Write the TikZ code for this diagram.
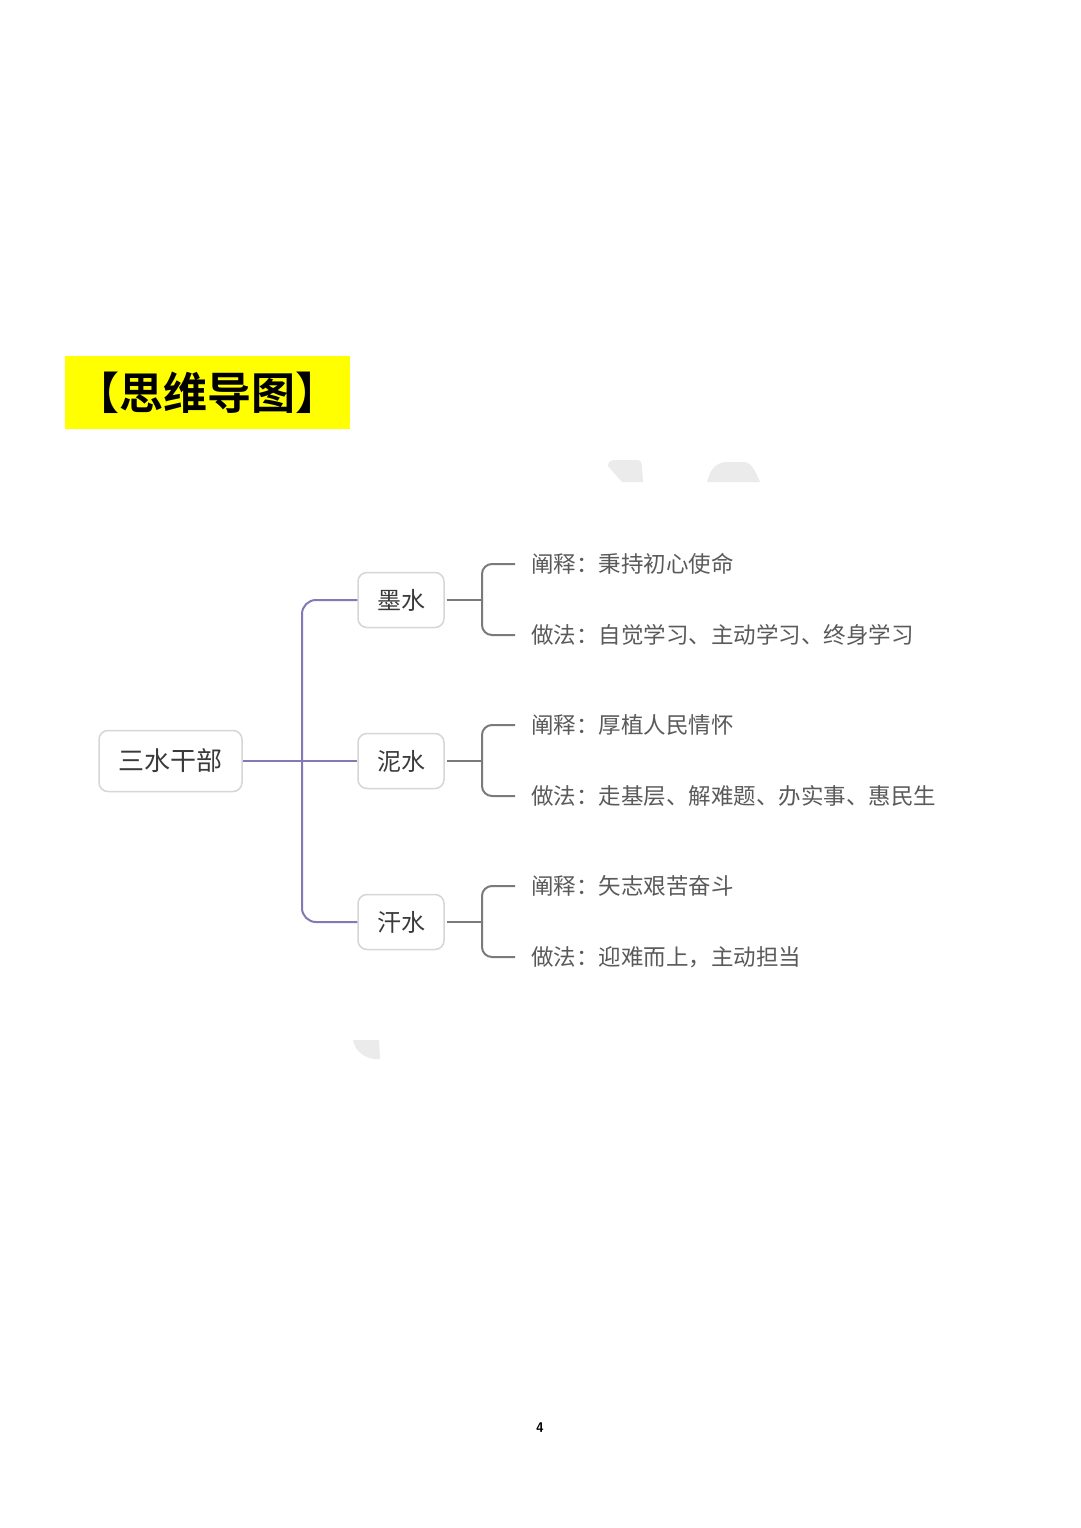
\documentclass[tikz,border=0pt]{standalone}
\usepackage{fontspec}
\newfontfamily\cjk{Noto Sans CJK SC}
\newfontfamily\cjkb{Noto Sans CJK SC Bold}
\usetikzlibrary{calc}
\definecolor{titley}{HTML}{FFFF00}
\definecolor{purp}{HTML}{8579B5}
\definecolor{grayline}{HTML}{7A7A7A}
\definecolor{boxline}{HTML}{D6D6D6}
\definecolor{txt}{HTML}{3A3A3A}
\definecolor{leaftxt}{HTML}{5A5A5A}
\definecolor{wm}{HTML}{EBEBEB}
\tikzset{
  rootbox/.style={draw=boxline, line width=1.5pt, rounded corners=9pt, fill=white,
    minimum width=143pt, minimum height=61pt, inner sep=0pt,
    font=\cjk\fontsize{26}{30}\selectfont, text=txt},
  childbox/.style={draw=boxline, line width=1.5pt, rounded corners=9pt, fill=white,
    minimum width=86pt, minimum height=55pt, inner sep=0pt,
    font=\cjk\fontsize{24}{28}\selectfont, text=txt},
  leaf/.style={anchor=west, inner xsep=16pt, inner ysep=0pt,
    font=\cjk\fontsize{22.5}{26}\selectfont, text=leaftxt},
  pline/.style={draw=purp, line width=2pt, rounded corners=14pt},
  gline/.style={draw=grayline, line width=2pt, rounded corners=10pt}
}
\begin{document}
\begin{tikzpicture}[x=1pt,y=-1pt]
\useasboundingbox (0,0) rectangle (1080,1528);
\fill[white] (0,0) rectangle (1080,1528);
% watermark remnants
\fill[wm] (608,466) .. controls (608,461) and (612,460) .. (616,460) -- (637,460)
  .. controls (641,460) and (642,463) .. (642,467) -- (643,482) -- (622,482) -- cycle;
\fill[wm] (707,482) .. controls (710,472) and (713,464) .. (725,462) -- (745,462)
  .. controls (751,463) and (755,470) .. (760,482) -- cycle;
\fill[wm] (353,1040) -- (379,1040) -- (380,1059) -- (374,1059)
  .. controls (362,1057) and (355,1050) .. (353,1040) -- cycle;
% title
\fill[titley] (65,356) rectangle (350,429);
\node[inner sep=0pt, font=\cjkb\fontsize{44}{48}\selectfont, text=black] (title) at (207.5,393) {【思维导图】};
% nodes
\node[rootbox] (root) at (170.5,761) {三水干部};
\node[childbox] (c1) at (401,600) {墨水};
\node[childbox] (c2) at (401,761) {泥水};
\node[childbox] (c3) at (401,922) {汗水};
\coordinate (j) at (302,761);
\node[leaf] (l11) at (515,564) {阐释：秉持初心使命};
\node[leaf] (l12) at (515,635) {做法：自觉学习、主动学习、终身学习};
\node[leaf] (l21) at (515,725) {阐释：厚植人民情怀};
\node[leaf] (l22) at (515,796) {做法：走基层、解难题、办实事、惠民生};
\node[leaf] (l31) at (515,886) {阐释：矢志艰苦奋斗};
\node[leaf] (l32) at (515,957) {做法：迎难而上，主动担当};
\coordinate (b1) at (482,600);
\coordinate (b2) at (482,761);
\coordinate (b3) at (482,922);
% purple connectors
\draw[pline, line width=2.6pt] (root.east) -- (j);
\draw[pline] (j) |- (c1.west);
\draw[pline] (j) |- (c3.west);
\draw[pline] (j) -- (c2.west);
% gray connectors
\foreach \c/\b/\u/\d in {c1/b1/l11/l12, c2/b2/l21/l22, c3/b3/l31/l32}{
  \draw[gline] ([xshift=2pt]\c.east) -- (\b);
  \draw[gline] (\b) |- (\u.west);
  \draw[gline] (\b) |- (\d.west);
}
% page number
\node[font=\sffamily\bfseries\fontsize{14}{16}\selectfont, text=black] (pg) at (540,1428) {4};
\end{tikzpicture}
\end{document}
